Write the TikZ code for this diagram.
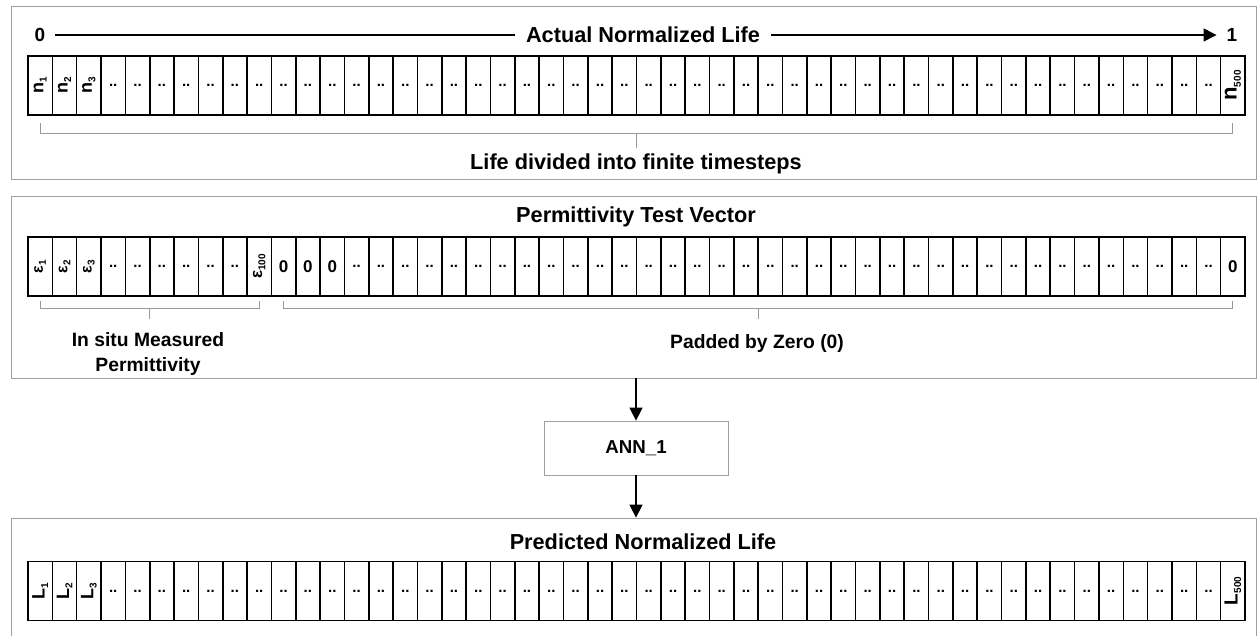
\documentclass[tikz,border=0pt]{standalone}
\usepackage{fontspec}
\setmainfont{Liberation Sans}
\usetikzlibrary{arrows.meta,calc,positioning}
% rotated cell label: letter, subscript, size
\newcommand{\vlab}[3]{\rotatebox{90}{\fontsize{#3}{#3}\selectfont #1\raisebox{-.35ex}{\fontsize{10}{10}\selectfont #2}}}
\begin{document}
\begin{tikzpicture}[x=1pt,y=-1pt,
	panel/.style={draw=gray!75,line width=.8pt,inner sep=0pt,minimum width=1245pt},
	cellbox/.style={draw,line width=1.6pt,minimum width=24.34pt,minimum height=59pt,inner sep=0pt,font=\fontsize{15}{15}\selectfont\bfseries},
	zerocell/.style={cellbox,font=\fontsize{17}{17}\selectfont\bfseries},
	heading/.style={font=\fontsize{21.7}{21.7}\selectfont\bfseries,text depth=0pt,inner sep=0pt},
	note/.style={font=\fontsize{19.3}{25}\selectfont\bfseries,text depth=0pt,inner sep=0pt,align=center},
	bracket/.style={draw=gray!80,line width=.9pt},
	flow/.style={line width=1.5pt,-{Triangle[length=13pt,width=13pt]}}]
	\useasboundingbox (0,0) rectangle (1257,636);
	
	% panels
	\node[panel,minimum height=173pt] (life) at (633.5,92.5) {};
	\node[panel,minimum height=182pt] (test) at (633.5,287) {};
	\node[panel,minimum height=200pt] (pred) at (633.5,618) {};
	
	% actual life axis
	\node[heading,inner sep=0pt,font=\fontsize{19}{19}\selectfont\bfseries] (zero) at (40,35) {0};
	\node[heading,inner sep=0pt,font=\fontsize{19}{19}\selectfont\bfseries] (one) at (1232,35) {1};
	\draw[flow] ([xshift=10pt]zero.east) -- ([xshift=-10pt]one.west);
	\node[heading,fill=white,inner xsep=11pt,inner ysep=3pt] (lifetitle) at (643,35) {Actual Normalized Life};
	
	% actual life cells
	\foreach \i in {4,...,49}
	\node[cellbox] (n\i) at ({28+24.34*(\i-.5)},85.5) {..};
	\foreach \i in {1,2,3}
	\node[cellbox] (n\i) at ({28+24.34*(\i-.5)},85.5) {\vlab{n}{\i}{18}};
	\node[cellbox] (n50) at ({28+24.34*49.5},85.5) {\vlab{n}{500}{22}};
	
	\draw[bracket] ($(n1.south)+(0,7)$) |- ($(n50.south)+(0,18)$) -- ($(n50.south)+(0,7)$);
	\draw[bracket] ($(n1.south)!.5!(n50.south)+(0,18)$) -- ++(0,14);
	\node[heading] (steps) at (636,162) {Life divided into finite timesteps};
	
	% permittivity test vector
	\node[heading] (testtitle) at (636,215) {Permittivity Test Vector};
	\foreach \i in {1,2,3}
	\node[cellbox] (e\i) at ({28+24.34*(\i-.5)},266.5) {\vlab{ε}{\i}{16}};
	\foreach \i in {4,...,9}
	\node[cellbox] (e\i) at ({28+24.34*(\i-.5)},266.5) {..};
	\node[cellbox] (e10) at ({28+24.34*9.5},266.5) {\vlab{ε}{100}{17}};
	\foreach \i in {11,12,13}
	\node[zerocell] (e\i) at ({28+24.34*(\i-.5)},266.5) {0};
	\foreach \i in {14,...,49}
	\node[cellbox] (e\i) at ({28+24.34*(\i-.5)},266.5) {..};
	\node[zerocell] (e50) at ({28+24.34*49.5},266.5) {0};
	
	\draw[bracket] ($(e1.south)+(0,4)$) |- ($(e10.south)+(0,12)$) -- ($(e10.south)+(0,4)$);
	\draw[bracket] ($(e1.south)!.5!(e10.south)+(0,12)$) -- ++(0,10);
	\draw[bracket] ($(e11.south)+(0,4)$) |- ($(e50.south)+(0,12)$) -- ($(e50.south)+(0,4)$);
	\draw[bracket] ($(e11.south)!.5!(e50.south)+(0,12)$) -- ++(0,10);
	\node[note] (insitu) at (148,352) {In situ Measured\\Permittivity};
	\node[note] (padded) at (757,342) {Padded by Zero (0)};
	
	% network
	\node[draw=gray!75,line width=.8pt,minimum width=184pt,minimum height=54pt,font=\fontsize{18.7}{18.7}\selectfont\bfseries] (ann) at (636,448) {ANN\_1};
	\draw[flow] (test.south -| ann.north) -- (ann.north);
	\draw[flow] (ann.south) -- (ann.south |- pred.north);
	
	% predicted life
	\node[heading] (predtitle) at (643,542) {Predicted Normalized Life};
	\foreach \i in {1,2,3}
	\node[cellbox] (l\i) at ({28+24.34*(\i-.5)},591) {\vlab{L}{\i}{18}};
	\foreach \i in {4,...,49}
	\node[cellbox] (l\i) at ({28+24.34*(\i-.5)},591) {..};
	\node[cellbox] (l50) at ({28+24.34*49.5},591) {\vlab{L}{500}{19}};
\end{tikzpicture}
\end{document}
